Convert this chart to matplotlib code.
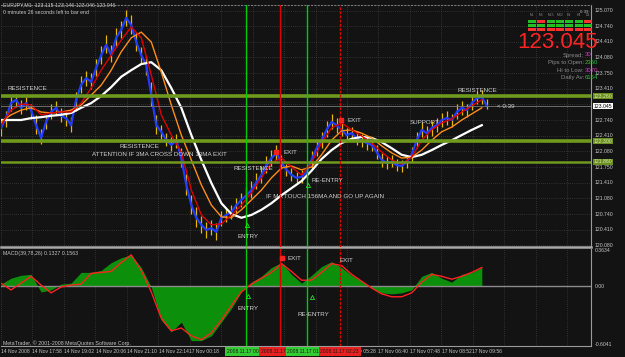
import numpy as np
import matplotlib.pyplot as plt
from matplotlib.patches import Rectangle

plt.rcParams['font.family'] = ['Liberation Sans', 'DejaVu Sans']

# EURJPY M1, one sample per 5 chart pixels (bar index)
close = [122.58, 122.79, 123.11, 123.18, 123.01, 123.11, 122.96, 122.64, 122.37, 122.71,
         122.92, 123.01, 122.84, 122.79, 122.64, 123.18, 123.50, 123.64, 123.56, 123.86,
         124.13, 124.35, 124.13, 124.50, 124.67, 124.92, 124.77, 124.41, 124.13, 123.92,
         123.28, 122.64, 122.50, 122.32, 122.22, 122.32, 121.94, 121.37, 120.94, 120.67,
         120.52, 120.41, 120.45, 120.37, 120.67, 120.73, 120.79, 120.94, 121.05, 121.15,
         121.26, 121.43, 121.58, 121.79, 121.94, 122.05, 121.84, 121.69, 121.58, 121.52,
         121.54, 121.64, 121.90, 122.15, 122.32, 122.54, 122.71, 122.64, 122.54, 122.43,
         122.47, 122.37, 122.32, 122.26, 122.22, 122.07, 121.90, 121.84, 121.86, 121.79,
         121.77, 121.86, 122.01, 122.32, 122.54, 122.47, 122.58, 122.64, 122.75, 122.79,
         122.75, 122.92, 123.01, 122.96, 123.11, 123.22, 123.24, 123.05]
high = [122.75, 122.95, 123.25, 123.30, 123.18, 123.24, 123.10, 122.85, 122.55, 122.85,
        123.08, 123.15, 123.00, 122.92, 122.82, 123.35, 123.68, 123.80, 123.75, 124.05,
        124.32, 124.55, 124.35, 124.70, 124.85, 125.10, 124.98, 124.62, 124.30, 124.10,
        123.55, 122.85, 122.65, 122.48, 122.38, 122.45, 122.15, 121.60, 121.15, 120.90,
        120.70, 120.58, 120.62, 120.55, 120.82, 120.88, 120.95, 121.08, 121.20, 121.32,
        121.45, 121.62, 121.78, 121.98, 122.12, 122.22, 122.00, 121.82, 121.72, 121.65,
        121.68, 121.78, 122.08, 122.32, 122.50, 122.72, 122.88, 122.80, 122.70, 122.58,
        122.60, 122.52, 122.45, 122.40, 122.36, 122.22, 122.05, 121.98, 122.00, 121.92,
        121.90, 122.00, 122.18, 122.50, 122.70, 122.62, 122.72, 122.80, 122.90, 122.95,
        122.88, 123.08, 123.16, 123.10, 123.26, 123.36, 123.38, 123.20]
low = [122.42, 122.60, 122.95, 123.02, 122.88, 122.97, 122.78, 122.45, 122.25, 122.55,
       122.78, 122.85, 122.70, 122.62, 122.50, 122.95, 123.32, 123.48, 123.40, 123.68,
       123.95, 124.18, 123.98, 124.30, 124.50, 124.75, 124.58, 124.22, 123.95, 123.70,
       123.05, 122.45, 122.35, 122.20, 122.08, 122.15, 121.75, 121.15, 120.75, 120.48,
       120.35, 120.25, 120.30, 120.20, 120.50, 120.58, 120.65, 120.78, 120.90, 121.00,
       121.10, 121.28, 121.42, 121.62, 121.78, 121.90, 121.70, 121.55, 121.45, 121.40,
       121.42, 121.50, 121.72, 121.98, 122.15, 122.38, 122.55, 122.48, 122.40, 122.30,
       122.33, 122.22, 122.18, 122.12, 122.08, 121.92, 121.76, 121.70, 121.74, 121.66,
       121.65, 121.72, 121.85, 122.15, 122.38, 122.32, 122.42, 122.50, 122.60, 122.65,
       122.60, 122.78, 122.86, 122.82, 122.96, 123.08, 123.10, 122.98]

# moving averages, every second sample
ma_red = [122.64, 122.96, 123.09, 123.07, 122.86, 122.90, 122.92, 122.92, 123.11, 123.43,
          123.81, 124.13, 124.45, 124.73, 124.50, 123.71, 122.86, 122.43, 122.07, 121.26,
          120.73, 120.52, 120.54, 120.73, 120.94, 121.20, 121.52, 121.84, 121.94, 121.75,
          121.58, 121.84, 122.26, 122.58, 122.69, 122.54, 122.41, 122.26, 122.07, 121.90,
          121.81, 121.96, 122.32, 122.54, 122.69, 122.77, 122.92, 123.05, 123.18]
ma_orange = [122.71, 122.86, 122.96, 123.01, 122.92, 122.90, 122.92, 122.96, 123.07, 123.28,
             123.49, 123.81, 124.20, 124.50, 124.62, 124.41, 123.77, 123.07, 122.43, 121.90,
             121.37, 120.94, 120.69, 120.67, 120.84, 121.05, 121.26, 121.52, 121.73, 121.77,
             121.69, 121.75, 122.01, 122.32, 122.52, 122.54, 122.47, 122.37, 122.20, 122.05,
             121.94, 121.96, 122.11, 122.32, 122.50, 122.60, 122.75, 122.88, 123.01]
ma_white = [122.75, 122.75, 122.75, 122.79, 122.81, 122.84, 122.86, 122.90, 123.01, 123.11,
            123.26, 123.45, 123.67, 123.81, 123.94, 123.98, 123.81, 123.43, 123.01, 122.43,
            121.90, 121.41, 120.98, 120.75, 120.67, 120.73, 120.84, 120.98, 121.15, 121.30,
            121.45, 121.67, 121.92, 122.11, 122.26, 122.35, 122.39, 122.37, 122.28, 122.15,
            122.01, 121.96, 122.01, 122.11, 122.22, 122.32, 122.43, 122.54, 122.64]

macd_hist = [0.02, 0.08, 0.11, 0.12, -0.06, -0.04, 0.02, 0.03, 0.14, 0.14,
             0.16, 0.24, 0.29, 0.32, 0.19, -0.01, -0.35, -0.47, -0.37, -0.56,
             -0.56, -0.51, -0.37, -0.23, -0.06, 0.04, 0.10, 0.19, 0.24, 0.12,
             0.03, 0.11, 0.20, 0.25, 0.19, 0.11, 0.05, -0.02, -0.07, -0.08,
             -0.07, -0.04, 0.10, 0.14, 0.08, 0.04, 0.12, 0.14, 0.19]
macd_signal = [0.03, -0.04, 0.03, 0.10, 0.01, -0.07, -0.01, 0.01, 0.02, 0.13,
               0.14, 0.15, 0.24, 0.32, 0.16, -0.06, -0.33, -0.46, -0.43, -0.51,
               -0.55, -0.48, -0.35, -0.20, -0.06, 0.02, 0.08, 0.14, 0.23, 0.15,
               0.06, 0.06, 0.14, 0.23, 0.21, 0.12, 0.05, -0.02, -0.08, -0.11,
               -0.11, -0.07, 0.04, 0.12, 0.10, 0.07, 0.10, 0.14, 0.19]

levels = [123.26, 122.30, 121.86]
bid = 123.045

# vertical event lines (bar index)
entries = [49.0, 61.0]
exits = [55.8, 67.6]
event_bars = [49.0, 55.8, 61.0, 67.6]
event_labels = ['2008.11.17 00:51', '2008.11.17 01:25', '2008.11.17 01:51', '2008.11.17 02:23']
exit_marks = [(55.0, 122.07), (67.8, 122.75)]
entry_marks = [(49.2, 120.52), (61.2, 121.37)]
macd_exit_marks = [(56.2, 0.29)]
macd_entry_marks = [(49.4, -0.10), (62.0, -0.11)]

price_ticks = [125.07, 124.74, 124.41, 124.08, 123.75, 123.41, 123.08, 122.74,
               122.41, 122.08, 121.75, 121.41, 121.08, 120.74, 120.41, 120.08]
time_ticks = [0, 6.2, 12.6, 19.0, 25.2, 31.6, 37.6, 68.8, 75.2, 81.6, 88.0, 94.0]
time_labels = ['14 Nov 2008', '14 Nov 17:58', '14 Nov 19:02', '14 Nov 20:06',
               '14 Nov 21:10', '14 Nov 22:14', '17 Nov 00:18', '17 Nov 05:28',
               '17 Nov 06:40', '17 Nov 07:48', '17 Nov 08:52', '17 Nov 09:56']

tf_names = ['M1', 'M5', 'M15', 'M30', 'H1', 'H4', 'D1']
tf_row1 = ['up', 'dn', 'up', 'up', 'up', 'up', 'dn']
tf_row2 = ['up', 'up', 'up', 'up', 'up', 'up', 'up']
tf_row3 = ['dn', 'dn', 'dn', 'dn', 'dn', 'dn', 'dn']
info_names = ['Spread:', 'Pips to Open:', 'Hi to Low:', 'Daily Av:']
info_values = ['30', '2350', '3070', '6164']

BG = '#131313'
GRID = '#4c4c4c'
TXT = '#c4c4c4'
W, H = 625, 357

fig = plt.figure(figsize=(W / 100, H / 100), dpi=100, facecolor=BG)


def box(x0, y0, x1, y1):
    return [x0 / W, 1 - y1 / H, (x1 - x0) / W, (y1 - y0) / H]


ax = fig.add_axes(box(1, 5, 591, 247))
am = fig.add_axes(box(1, 249, 591, 346))

idx = np.arange(len(close))
ma_idx = np.arange(0, len(close), 2)
grid_x = np.arange(0, 118, 6.28)

for a in (ax, am):
    a.set_facecolor(BG)
    a.set_xlim(0, 117.8)
    a.set_xticks([])
    a.set_yticks([])
    for s in a.spines.values():
        s.set_color('#9a9a9a')
        s.set_linewidth(0.8)
    a.spines['left'].set_visible(False)
    for gx in grid_x:
        a.axvline(gx, color=GRID, lw=0.5, ls=(0, (1, 2)), zorder=0)

# main price panel
ax.set_ylim(120.048, 125.197)
ax.spines['top'].set_linestyle((0, (1, 2)))
ax.spines['top'].set_color('#777777')
ax.spines['bottom'].set_linewidth(1.8)
ax.spines['bottom'].set_color('#a8a8a8')
for p in price_ticks:
    ax.axhline(p, color=GRID, lw=0.5, ls=(0, (1, 2)), zorder=0)

ax.vlines(idx, low, high, color='#e6b800', lw=0.9, zorder=2)
ax.plot(idx, close, color='#1f3cff', lw=1.6, zorder=3)
ax.plot(ma_idx, ma_white, color='white', lw=1.6, zorder=4)
ax.plot(ma_idx, ma_orange, color='#ff8c1a', lw=1.0, zorder=5)
ax.plot(ma_idx, ma_red, color='#e00000', lw=1.0, zorder=6)

ax.axhline(bid, color='#7a7a7a', lw=0.6, zorder=6)
for lv, lw in zip(levels, [2.6, 2.6, 1.8]):
    ax.axhline(lv, color='#6f9a1e', lw=lw, zorder=7)

for a in (ax, am):
    for e in entries:
        a.axvline(e, color='#00cc00', lw=1.0, zorder=8)
    a.axvline(exits[0], color='#e00000', lw=1.0, zorder=8)
    a.axvline(exits[1], color='#e00000', lw=1.0, ls=(0, (2, 1)), zorder=8)

for x, y in exit_marks:
    ax.plot(x, y, 's', color='#ff2020', ms=2.2, zorder=9)
for x, y in entry_marks:
    ax.plot(x, y, '^', mfc='none', mec='#20e020', ms=3, mew=0.6, zorder=9)

# right price scale (the tick under the bid label is hidden, as in MT4)
ytr = ax.get_yaxis_transform()
for p in price_ticks:
    if abs(p - bid) < 0.08:
        continue
    ax.text(1.006, p, '%.3f' % p, transform=ytr, color=TXT, fontsize=3.7,
            va='center', ha='left', clip_on=False)
for lv in levels:
    ax.text(1.004, lv, '%.3f' % lv, transform=ytr, color='#d8e8b0', fontsize=3.7,
            va='center', ha='left', clip_on=False, zorder=10,
            bbox=dict(boxstyle='square,pad=0.15', fc='#6b8e23', ec='none'))
ax.text(1.004, bid, '%.3f' % bid, transform=ytr, color='black', fontsize=3.7,
        va='center', ha='left', clip_on=False, zorder=11,
        bbox=dict(boxstyle='square,pad=0.15', fc='white', ec='none'))

# MACD panel
am.set_ylim(-0.615, 0.38)
am.spines['top'].set_visible(False)
am.fill_between(ma_idx, 0, macd_hist, color='#0c900c', lw=0, zorder=2)
am.plot(ma_idx, macd_signal, color='#ff2020', lw=1.0, zorder=4)
am.axhline(0, color='#8a8a8a', lw=1.0, zorder=3)
for x, y in macd_exit_marks:
    am.plot(x, y, 's', color='#ff2020', ms=2.2, zorder=9)
for x, y in macd_entry_marks:
    am.plot(x, y, '^', mfc='none', mec='#20e020', ms=3, mew=0.6, zorder=9)

mtr = am.get_yaxis_transform()
for v, lab in [(0.3634, '0.3634'), (0.0, '0.00'), (-0.6041, '-0.6041')]:
    am.text(1.006, v, lab, transform=mtr, color=TXT, fontsize=3.7,
            va='center', ha='left', clip_on=False)

# time scale; the event boxes cover each other like the terminal does
xtr = am.get_xaxis_transform()
for t, lab in zip(time_ticks, time_labels):
    am.text(t, -0.055, lab, transform=xtr, color=TXT, fontsize=3.6,
            va='center', ha='left', clip_on=False)
for t, lab, col in zip(event_bars, event_labels, ['#33cc33', '#e82020', '#33cc33', '#e82020']):
    am.text(t, -0.055, lab, transform=xtr, color='#1a1a1a', fontsize=3.6,
            va='center', ha='center', clip_on=False, zorder=12,
            bbox=dict(boxstyle='square,pad=0.35', fc=col, ec='none'))

# overlay in pixel space for labels and the info block
ov = fig.add_axes([0, 0, 1, 1], zorder=10)
ov.set_xlim(0, W)
ov.set_ylim(H, 0)
ov.axis('off')
ov.patch.set_alpha(0)

small = dict(color=TXT, fontsize=3.8, ha='left', va='center')
ov.text(3, 5, 'EURJPY,M1  123.115 123.146 123.046 123.046', **small)
ov.text(3, 12, '0 minutes 26 seconds left to bar end', **small)
ov.text(3, 253, 'MACD(39,78,26) 0.1327 0.1563', **small)
ov.text(3, 343, 'MetaTrader, \u00a9 2001-2008 MetaQuotes Software Corp.', **small)

note = dict(color='#d0d0d0', fontsize=4.5, ha='left', va='center')
for lab, x, y in [('RESISTENCE', 8, 88), ('RESISTENCE', 119, 147),
                  ('ATTENTION IF 3MA CROSS DOWN 13MA EXIT', 92, 155),
                  ('RESISTENCE', 233, 169), ('EXIT', 284, 153), ('RE-ENTRY', 311, 181),
                  ('IF MA TOUCH 156MA AND GO UP AGAIN', 266, 196), ('ENTRY', 237, 237),
                  ('EXIT', 347, 120), ('SUPPORT', 410, 123), ('RESISTENCE', 457, 91),
                  ('< 0:39', 497, 107), ('EXIT', 287, 258), ('EXIT', 340, 261),
                  ('ENTRY', 238, 309), ('RE-ENTRY', 297, 315)]:
    ov.text(x, y, lab, **note)

# timeframe signal grid
cols = {'up': '#22c022', 'dn': '#ff3030'}
for c, name in enumerate(tf_names):
    x0 = 528 + 9.3 * c
    ov.text(x0 + 4, 15.5, name, color='#8a8a8a', fontsize=2.4, ha='center', va='center')
    for row, y0 in [(tf_row1, 19.5), (tf_row2, 23.5), (tf_row3, 27.5)]:
        ov.add_patch(Rectangle((x0, y0), 8, 3, fc=cols[row[c]], ec='none'))
ov.text(589, 12, '0 39', color='#bbbbbb', fontsize=3.2, ha='right', va='center')

ov.text(598, 48, '123.045', color='#ff2424', fontsize=16, ha='right', va='baseline')
for k, (name, val) in enumerate(zip(info_names, info_values)):
    y = 55 + 7.5 * k
    ov.text(584, y, name, color='#8c8c8c', fontsize=4.3, ha='right', va='center')
    ov.text(585, y, val, color=['#c040c0', '#30c030'][k % 2], fontsize=4.3,
            ha='left', va='center')

fig.savefig('out.png', dpi=100, facecolor=BG)
